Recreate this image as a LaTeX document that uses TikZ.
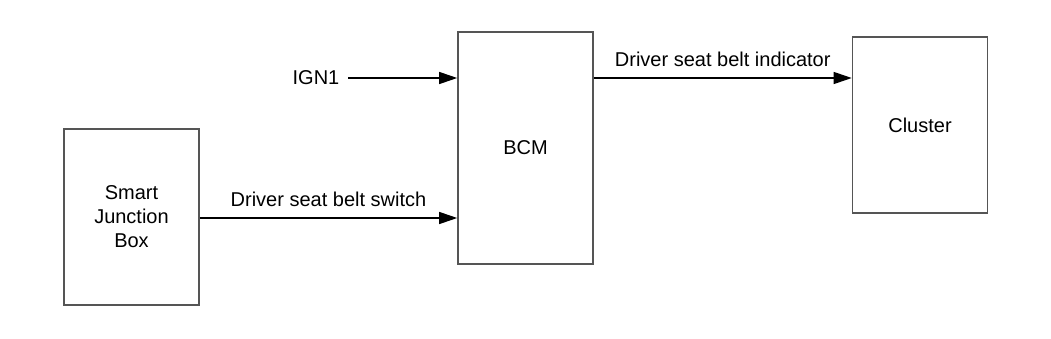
\documentclass[tikz,border=0pt]{standalone}
\usepackage{fontspec}
\setmainfont{Liberation Sans}
\usepackage{tikz}
\usetikzlibrary{arrows.meta, positioning}
\usepackage{xcolor}
\definecolor{boxgray}{RGB}{85,85,85}
\tikzset{
  unit/.style={rectangle, draw=boxgray, line width=0.8pt, fill=white,
               minimum width=67.5pt, align=center, inner sep=2pt},
  signal/.style={-{Triangle[length=9pt, width=6pt]}, line width=0.6pt, black}
}

\begin{document}
\begin{tikzpicture}[x=0.5pt, y=-0.5pt]
  \useasboundingbox (0,0) rectangle (1051,338);
  \node[unit, minimum height=88pt] (sjb) at (131.5,217) {Smart\\Junction\\Box};
  \node[unit, minimum height=116pt] (bcm) at (525.5,148) {BCM};
  \node[unit, minimum height=88pt] (cluster) at (920,125) {Cluster};
  \node[inner sep=2pt] (ign) at (316,78) {IGN1};
  \draw[signal] (ign.east) ++(4.5,0) -- (bcm.west |- ign);
  \draw[signal] (sjb.east |- 0,218) -- node[above=2pt] {Driver seat belt switch} (bcm.west |- 0,218);
  \draw[signal] (bcm.east |- ign) -- node[above=2pt] {Driver seat belt indicator} (cluster.west |- ign);
\end{tikzpicture}
\end{document}
